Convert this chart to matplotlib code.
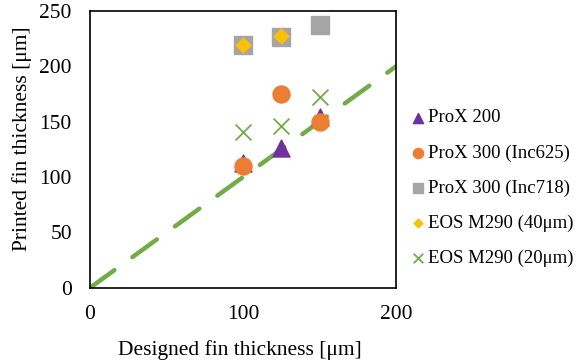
import matplotlib
matplotlib.use("Agg")
import matplotlib.pyplot as plt

plt.rcParams['font.family'] = ['Liberation Serif', 'DejaVu Serif']

designed = [100, 125, 150]
prox200 = [113, 126, 154]
prox300_625 = [110, 175, 150]
prox300_718 = [219, 226, 237]
eos40_x = [100, 125]
eos40 = [219, 227]
eos20 = [141, 146, 172]
ref_x = [0, 200]
ref_y = [0, 200]

fig = plt.figure(figsize=(5.8, 3.63), dpi=100)
ax = fig.add_axes([0.155, 0.207, 0.528, 0.763])

ax.plot(ref_x, ref_y, color='#70AD47', lw=3.2, dashes=(6.8, 5.0), solid_capstyle='round',
        dash_capstyle='round', zorder=1)
ax.scatter(designed, prox200, marker='^', s=150, color='#7030A0', label='ProX 200', zorder=3)
ax.scatter(designed, prox300_625, marker='o', s=150, color='#ED7D31', label='ProX 300 (Inc625)', zorder=4)
ax.scatter(designed, prox300_718, marker='s', s=150, color='#A5A5A5', label='ProX 300 (Inc718)', zorder=3)
ax.scatter(eos40_x, eos40, marker='D', s=55, color='#FFC000', label='EOS M290 (40μm)', zorder=4)
ax.scatter(designed, eos20, marker='x', s=130, color='#70AD47', linewidths=1.3,
           label='EOS M290 (20μm)', zorder=3)

ax.set_xlim(0, 200)
ax.set_ylim(0, 250)
ax.set_xticks([0, 100, 200])
ax.set_yticks([0, 50, 100, 150, 200, 250])
ax.tick_params(length=0, labelsize=15.5)
ax.tick_params(axis='x', pad=12)
ax.tick_params(axis='y', pad=13)
for s in ax.spines.values():
    s.set_linewidth(1.2)
ax.set_xlabel('Designed fin thickness [μm]', fontsize=15.5)
ax.set_ylabel('Printed fin thickness [μm]', fontsize=15.5)
ax.xaxis.set_label_coords(0.49, -0.19)
ax.yaxis.set_label_coords(-0.19, 0.54)

leg = ax.legend(loc='center left', bbox_to_anchor=(1.03, 0.36), frameon=False,
                fontsize=13.5, handletextpad=0.1, labelspacing=0.95, markerscale=0.6,
                handlelength=0.9, borderaxespad=0.0, borderpad=0.2)

fig.savefig('out.png', dpi=100)
